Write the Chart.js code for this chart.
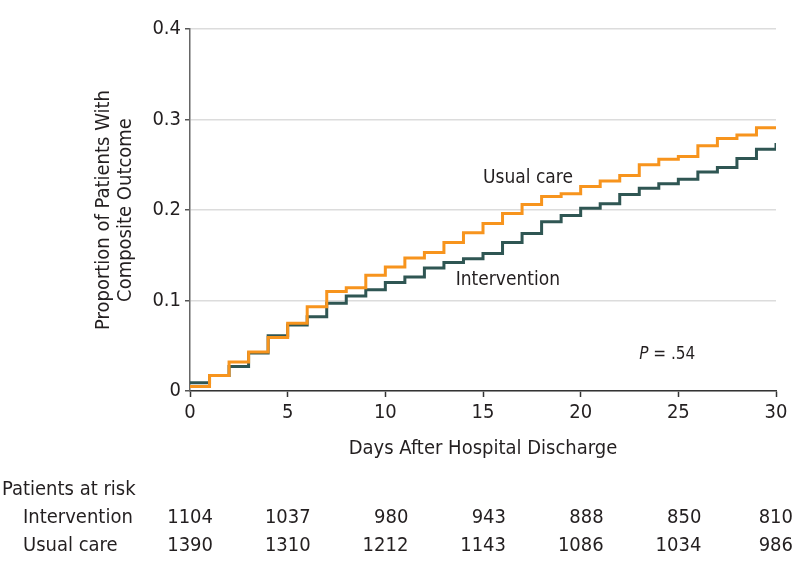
<!DOCTYPE html>
<html>
<head>
<meta charset="utf-8">
<script src="https://cdn.jsdelivr.net/npm/chart.js@4.4.0/dist/chart.umd.min.js"></script>
<style>
  html, body { margin: 0; padding: 0; background: #fff; }
  #wrap { width: 794px; height: 574px; }
</style>
</head>
<body>
<div id="wrap"><canvas id="km" width="794" height="574"></canvas></div>
<script>
// dados (proporção acumulada por dia)
var days = [0, 1, 2, 3, 4, 5, 6, 7, 8, 9, 10, 11, 12, 13, 14, 15, 16, 17, 18, 19, 20,
            21, 22, 23, 24, 25, 26, 27, 28, 29, 30];
var usualCare = [0.005, 0.017, 0.032, 0.043, 0.059, 0.075, 0.093, 0.110, 0.114, 0.128, 0.137,
                 0.147, 0.153, 0.164, 0.175, 0.185, 0.196, 0.206, 0.215, 0.218, 0.226,
                 0.232, 0.238, 0.250, 0.256, 0.259, 0.271, 0.279, 0.283, 0.291, 0.291];
var intervention = [0.009, 0.017, 0.027, 0.042, 0.061, 0.073, 0.082, 0.097, 0.105, 0.112, 0.120,
                    0.126, 0.136, 0.142, 0.146, 0.152, 0.164, 0.174, 0.187, 0.194, 0.202,
                    0.207, 0.217, 0.224, 0.229, 0.234, 0.242, 0.247, 0.257, 0.267, 0.274];
var xTicks = [0, 5, 10, 15, 20, 25, 30];
var yTicks = [0, 0.1, 0.2, 0.3, 0.4];
var riskRows = ['Intervention', 'Usual care'];
var riskIntervention = [1104, 1037, 980, 943, 888, 850, 810];
var riskUsualCare = [1390, 1310, 1212, 1143, 1086, 1034, 986];

var FONT = "'Liberation Sans Narrow', 'DejaVu Sans Condensed', 'Noto Sans', sans-serif";
var INK = '#231f20';

function toPoints(vals) {
  return days.map(function (d, i) { return { x: d, y: vals[i] }; });
}

// rótulos das curvas, P-valor e tabela de pacientes em risco
var extrasPlugin = {
  id: 'extras',
  afterDatasetsDraw: function (chart) {
    var ctx = chart.ctx;
    var xs = chart.scales.x, ys = chart.scales.y;
    ctx.save();
    ctx.fillStyle = INK;
    ctx.textBaseline = 'middle';
    ctx.textAlign = 'left';
    ctx.font = '19px ' + FONT;
    ctx.fillText('Usual care', xs.getPixelForValue(15.0), ys.getPixelForValue(0.235));
    ctx.fillText('Intervention', xs.getPixelForValue(13.6), ys.getPixelForValue(0.123));

    // P = .54 (P em itálico)
    var px = xs.getPixelForValue(23.0), py = ys.getPixelForValue(0.040);
    ctx.font = 'italic 17px ' + FONT;
    ctx.fillText('P', px, py);
    var w = ctx.measureText('P').width;
    ctx.font = '17px ' + FONT;
    ctx.fillText(' = .54', px + w, py);

    // tabela
    ctx.font = '20px ' + FONT;
    ctx.fillText('Patients at risk', 2, 490);
    ctx.fillText(riskRows[0], 23, 518);
    ctx.fillText(riskRows[1], 23, 546);
    ctx.textAlign = 'right';
    xTicks.forEach(function (t, i) {
      var x = Math.min(xs.getPixelForValue(t) + 23, chart.width - 1);
      ctx.fillText(String(riskIntervention[i]), x, 518);
      ctx.fillText(String(riskUsualCare[i]), x, 546);
    });
    ctx.restore();
  }
};

new Chart(document.getElementById('km'), {
  type: 'line',
  data: {
    datasets: [
      {
        label: 'Usual care',
        data: toPoints(usualCare),
        borderColor: '#f7941d',
        borderWidth: 3,
        stepped: 'before',
        pointRadius: 0,
        fill: false
      },
      {
        label: 'Intervention',
        data: toPoints(intervention),
        borderColor: '#2f5653',
        borderWidth: 3,
        stepped: 'before',
        pointRadius: 0,
        fill: false
      }
    ]
  },
  options: {
    responsive: false,
    animation: false,
    devicePixelRatio: 1,
    layout: { padding: { left: 0, right: 18, top: 29, bottom: 114 } },
    plugins: {
      legend: { display: false },
      tooltip: { enabled: false }
    },
    scales: {
      x: {
        type: 'linear',
        min: 0,
        max: 30,
        afterBuildTicks: function (s) { s.ticks = xTicks.map(function (v) { return { value: v }; }); },
        afterFit: function (s) { s.height = 69; },
        ticks: { color: INK, font: { family: FONT, size: 20 }, padding: 4, maxRotation: 0 },
        grid: { drawOnChartArea: false, drawTicks: true, tickLength: 6, tickColor: '#333', tickWidth: 1.5 },
        border: { color: '#333', width: 1.5 },
        title: {
          display: true,
          text: 'Days After Hospital Discharge',
          color: INK,
          font: { family: FONT, size: 20, lineHeight: '22px' },
          padding: { top: 0, bottom: 0 }
        }
      },
      y: {
        min: 0,
        max: 0.4,
        afterBuildTicks: function (s) { s.ticks = yTicks.map(function (v) { return { value: v }; }); },
        afterFit: function (s) { s.width = 190; },
        ticks: {
          color: INK,
          font: { family: FONT, size: 20 },
          padding: 4,
          callback: function (v) { return v === 0 ? '0' : v.toFixed(1); }
        },
        grid: { color: '#dcdcdc', lineWidth: 1.5, tickLength: 5, tickColor: '#555', tickWidth: 1.5 },
        border: { color: '#666', width: 1.5 },
        title: {
          display: true,
          text: ['Proportion of Patients With', 'Composite Outcome'],
          color: INK,
          font: { family: FONT, size: 20, lineHeight: '22px' },
          padding: { top: 93, bottom: 0 }
        }
      }
    }
  },
  plugins: [extrasPlugin]
});
</script>
</body>
</html>
